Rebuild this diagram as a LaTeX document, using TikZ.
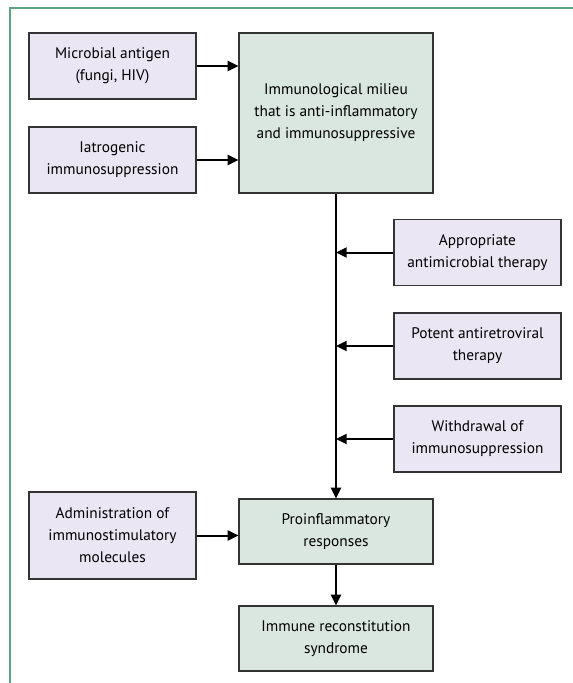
\documentclass[tikz,border=0pt]{standalone}
\usepackage{fontspec}
\setmainfont{PT Sans}
\usetikzlibrary{arrows.meta}
\definecolor{framegreen}{HTML}{5AA47F}
\definecolor{causefill}{HTML}{EAE6F3}
\definecolor{statefill}{HTML}{D9E7E0}
\begin{document}
\begin{tikzpicture}[x=0.75pt,y=-0.75pt,font=\fontsize{11.5}{16.5}\selectfont]
  \tikzstyle{every node}=[draw=black!80,line width=0.9pt,align=center,inner sep=0pt]
  \tikzstyle{cause}=[fill=causefill,minimum width=125.25pt,minimum height=49.5pt]
  \tikzstyle{state}=[fill=statefill,minimum width=145.5pt,minimum height=48.75pt]
  \tikzstyle{arr}=[line width=1.5pt,-{Triangle[length=8pt,width=7.5pt]}]
  \useasboundingbox (0,0) rectangle (573,683);
  \draw[framegreen,line width=0.9pt] (573,8) -- (10,8) -- (10,683);
  % boxes
  \node[cause] (micro) at (112.5,66) {Microbial antigen\\(fungi, HIV)};
  \node[cause] (iatro) at (112.5,160) {Iatrogenic\\immunosuppression};
  \node[state,minimum height=120pt] (milieu) at (336,113)
    {Immunological milieu\\that is anti-inflammatory\\and immunosuppressive};
  \node[cause] (approp) at (477.5,252.5) {Appropriate\\antimicrobial therapy};
  \node[cause] (potent) at (477.5,346) {Potent antiretroviral\\therapy};
  \node[cause] (withdr) at (477.5,439) {Withdrawal of\\immunosuppression};
  \node[cause,minimum height=65.25pt] (admin) at (112.5,535.5)
    {Administration of\\immunostimulatory\\molecules};
  \node[state] (proinf) at (336,531.5) {Proinflammatory\\responses};
  \node[state] (immune) at (336,638.5) {Immune reconstitution\\syndrome};
  % arrows
  \draw[arr] (micro.east) -- (micro.east -| milieu.west);
  \draw[arr] (iatro.east) -- (iatro.east -| milieu.west);
  \draw[arr] (milieu) -- (proinf);
  \draw[arr] (approp.west) -- (approp.west -| milieu.south);
  \draw[arr] (potent.west) -- (potent.west -| milieu.south);
  \draw[arr] (withdr.west) -- (withdr.west -| milieu.south);
  \draw[arr] (admin.east) -- (admin.east -| proinf.west);
  \draw[arr] (proinf) -- (immune);
\end{tikzpicture}
\end{document}
